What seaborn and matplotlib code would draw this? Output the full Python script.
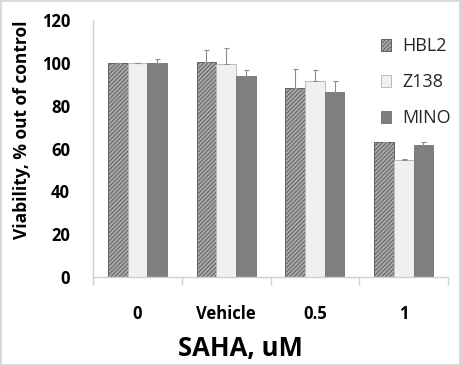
import matplotlib
matplotlib.use("Agg")
import matplotlib.pyplot as plt
from matplotlib.patches import Patch
import numpy as np
import pandas as pd
import seaborn as sns

# Data: cell viability after SAHA treatment (% of untreated control)
conditions = ["0", "Vehicle", "0.5", "1"]
cell_lines = ["HBL2", "Z138", "MINO"]
hbl2 = [100.0, 100.4, 88.4, 63.0]
z138 = [100.0, 99.3, 91.7, 54.9]
mino = [100.0, 93.8, 86.5, 61.6]
hbl2_sd = [0.0, 5.6, 8.7, 0.3]
z138_sd = [0.0, 7.7, 4.9, 0.3]
mino_sd = [1.8, 2.7, 5.0, 1.4]

values = {"HBL2": hbl2, "Z138": z138, "MINO": mino}
errors = {"HBL2": hbl2_sd, "Z138": z138_sd, "MINO": mino_sd}

df = pd.DataFrame(
    [(c, line, values[line][i]) for line in cell_lines for i, c in enumerate(conditions)],
    columns=["condition", "line", "viability"],
)

sns.set_theme(style="white")
plt.rcParams["font.family"] = ["Open Sans", "DejaVu Sans"]
plt.rcParams["hatch.linewidth"] = 0.7
plt.rcParams["hatch.color"] = "#555555"

styles = {
    "HBL2": dict(facecolor="#a9a9a9", edgecolor="#606060", hatch="////////"),
    "Z138": dict(facecolor="#f0f0f0", edgecolor="#bcbcbc", hatch=None),
    "MINO": dict(facecolor="#7f7f7f", edgecolor="#7a7a7a", hatch=None),
}

fig = plt.figure(figsize=(4.61, 3.66), dpi=100, edgecolor="#d9d9d9", linewidth=1.5)
ax = fig.add_axes([0.2017, 0.243, 0.7703, 0.702])

sns.barplot(
    data=df, x="condition", y="viability", hue="line",
    order=conditions, hue_order=cell_lines,
    width=0.665, errorbar=None, legend=False, ax=ax,
)

for line, container in zip(cell_lines, ax.containers):
    st = styles[line]
    xs, tops = [], []
    for bar in container:
        bar.set_facecolor(st["facecolor"])
        bar.set_edgecolor(st["edgecolor"])
        bar.set_linewidth(0.7)
        if st["hatch"]:
            bar.set_hatch(st["hatch"])
        xs.append(bar.get_x() + bar.get_width() / 2)
        tops.append(bar.get_height())
    err = np.array(errors[line])
    ax.errorbar(xs, tops, yerr=[np.zeros_like(err), err], fmt="none",
                ecolor="#8c8c8c", elinewidth=0.8, capsize=1.8, capthick=0.8, zorder=3)

ax.set_xlim(-0.5, 3.5)
ax.set_ylim(0, 120)
ax.set_yticks(np.arange(0, 121, 20))
ax.set_xticks(range(len(conditions)))
ax.set_xticklabels(conditions)
ax.set_xticks(np.arange(-0.5, 3.6, 1.0), minor=True)

for s in ["top", "right"]:
    ax.spines[s].set_visible(False)
for s in ["left", "bottom"]:
    ax.spines[s].set_color("#d0d0d0")
    ax.spines[s].set_linewidth(1.0)

ax.tick_params(axis="y", which="major", length=1.5, color="#d0d0d0",
               labelsize=12, pad=15, labelcolor="black")
ax.tick_params(axis="x", which="major", length=0, labelsize=12, pad=20, labelcolor="black")
ax.tick_params(axis="x", which="minor", bottom=True, length=6, width=1.0, color="#d0d0d0")
for lab in ax.get_yticklabels() + ax.get_xticklabels():
    lab.set_fontweight("bold")

ax.set_xlabel("")
ax.set_ylabel("")
fig.text(0.521, 0.049, "SAHA, uM", ha="center", va="center",
         fontsize=18.5, fontweight="bold", color="black")
fig.text(0.048, 0.645, "Viability, % out of control", ha="center", va="center",
         rotation=90, fontsize=12.5, fontweight="bold", color="black")

handles = [Patch(facecolor=styles[l]["facecolor"], edgecolor=styles[l]["edgecolor"],
                 hatch=styles[l]["hatch"], linewidth=0.7) for l in cell_lines]
fig.legend(handles, cell_lines, loc="upper left", bbox_to_anchor=(0.81, 0.918),
           frameon=False, fontsize=13, handlelength=0.6, handleheight=0.6,
           handletextpad=0.6, labelspacing=1.0, borderaxespad=0)

fig.savefig("out.png", dpi=100, edgecolor=fig.get_edgecolor())
